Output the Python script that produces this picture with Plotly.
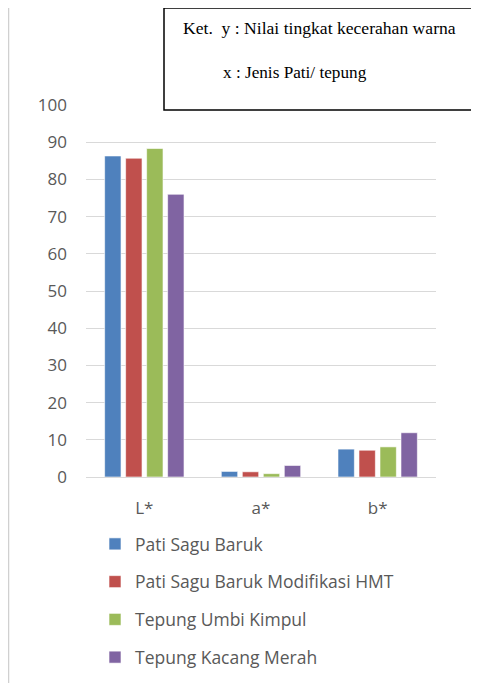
import plotly.graph_objects as go

categories = ["L*", "a*", "b*"]
series_names = [
    "Pati Sagu Baruk",
    "Pati Sagu Baruk Modifikasi HMT",
    "Tepung Umbi Kimpul",
    "Tepung Kacang Merah",
]
pati_sagu_baruk = [86.3, 1.5, 7.5]
pati_sagu_hmt = [85.7, 1.4, 7.2]
tepung_umbi_kimpul = [88.3, 0.9, 8.1]
tepung_kacang_merah = [76.0, 3.1, 11.9]
y_ticks = [0, 10, 20, 30, 40, 50, 60, 70, 80, 90, 100]

COLORS = ["#4F81BD", "#C0504D", "#9BBB59", "#8064A2"]
TEXT = "#595959"
GRID = "#D9D9D9"

# the page body has an 8px margin, so the figure is laid out 8px in from the window edge
OFF = 8
W, H = 479 - OFF, 683 - OFF
L, R, T, B = 86 - OFF, 51 - OFF, 105 - OFF, 206
PW, PH = W - L - R, H - T - B


def px_x(x):
    # x in window pixels -> paper coords
    return (x - OFF - L) / PW


def px_y(y):
    return (H - B - (y - OFF)) / PH


fig = go.Figure()
for i, (name, vals) in enumerate(zip(series_names,
                                     [pati_sagu_baruk, pati_sagu_hmt, tepung_umbi_kimpul, tepung_kacang_merah])):
    fig.add_trace(go.Bar(
        x=categories, y=vals, name=name, legendgroup=f"g{i}",
        marker=dict(color=COLORS[i], line=dict(color="rgba(255,255,255,0.6)", width=1)),
    ))

fig.update_layout(
    width=W, height=H,
    # fixed margins: the legend below must not shrink the plot area
    margin=dict(l=L, r=R, t=T, b=B, autoexpand=False),
    plot_bgcolor="white", paper_bgcolor="white",
    barmode="group", bargap=0.28, bargroupgap=0.22,
    font=dict(family="Open Sans, Noto Sans, sans-serif", size=16, color=TEXT),
    showlegend=True,
    legend=dict(
        orientation="v", x=px_x(95), xanchor="left", yref="container", y=8 / H, yanchor="bottom",
        font=dict(size=17.5, color=TEXT), tracegroupgap=12, itemwidth=30,
    ),
)
fig.update_yaxes(
    range=[0, 100], tickvals=y_ticks, showgrid=True, gridcolor=GRID, gridwidth=1.3,
    zeroline=False, showline=False, ticklabelstandoff=18, tickfont=dict(size=17),
)
fig.update_xaxes(showgrid=False, showline=True, linecolor=GRID, linewidth=1.3,
                 ticklabelstandoff=15, tickfont=dict(size=17))

# note box (top-right)
fig.add_shape(type="rect", xref="paper", yref="paper",
              x0=px_x(164), x1=px_x(495), y0=px_y(110), y1=px_y(8),
              line=dict(color="black", width=1.5), fillcolor="white", layer="above")
fig.add_annotation(xref="paper", yref="paper", x=px_x(181), y=px_y(28), xanchor="left", yanchor="middle",
                   text="Ket.  y : Nilai tingkat kecerahan warna", showarrow=False,
                   font=dict(family="Liberation Serif, serif", size=17.6, color="black"))
fig.add_annotation(xref="paper", yref="paper", x=px_x(221), y=px_y(72), xanchor="left", yanchor="middle",
                   text="x : Jenis Pati/ tepung", showarrow=False,
                   font=dict(family="Liberation Serif, serif", size=17.2, color="black"))

# faint frame line on the left edge
fig.add_shape(type="line", xref="paper", yref="paper",
              x0=px_x(8.5), x1=px_x(8.5), y0=px_y(700), y1=px_y(0),
              line=dict(color="#D0D0D0", width=1.5))

fig.write_html("out.html")
